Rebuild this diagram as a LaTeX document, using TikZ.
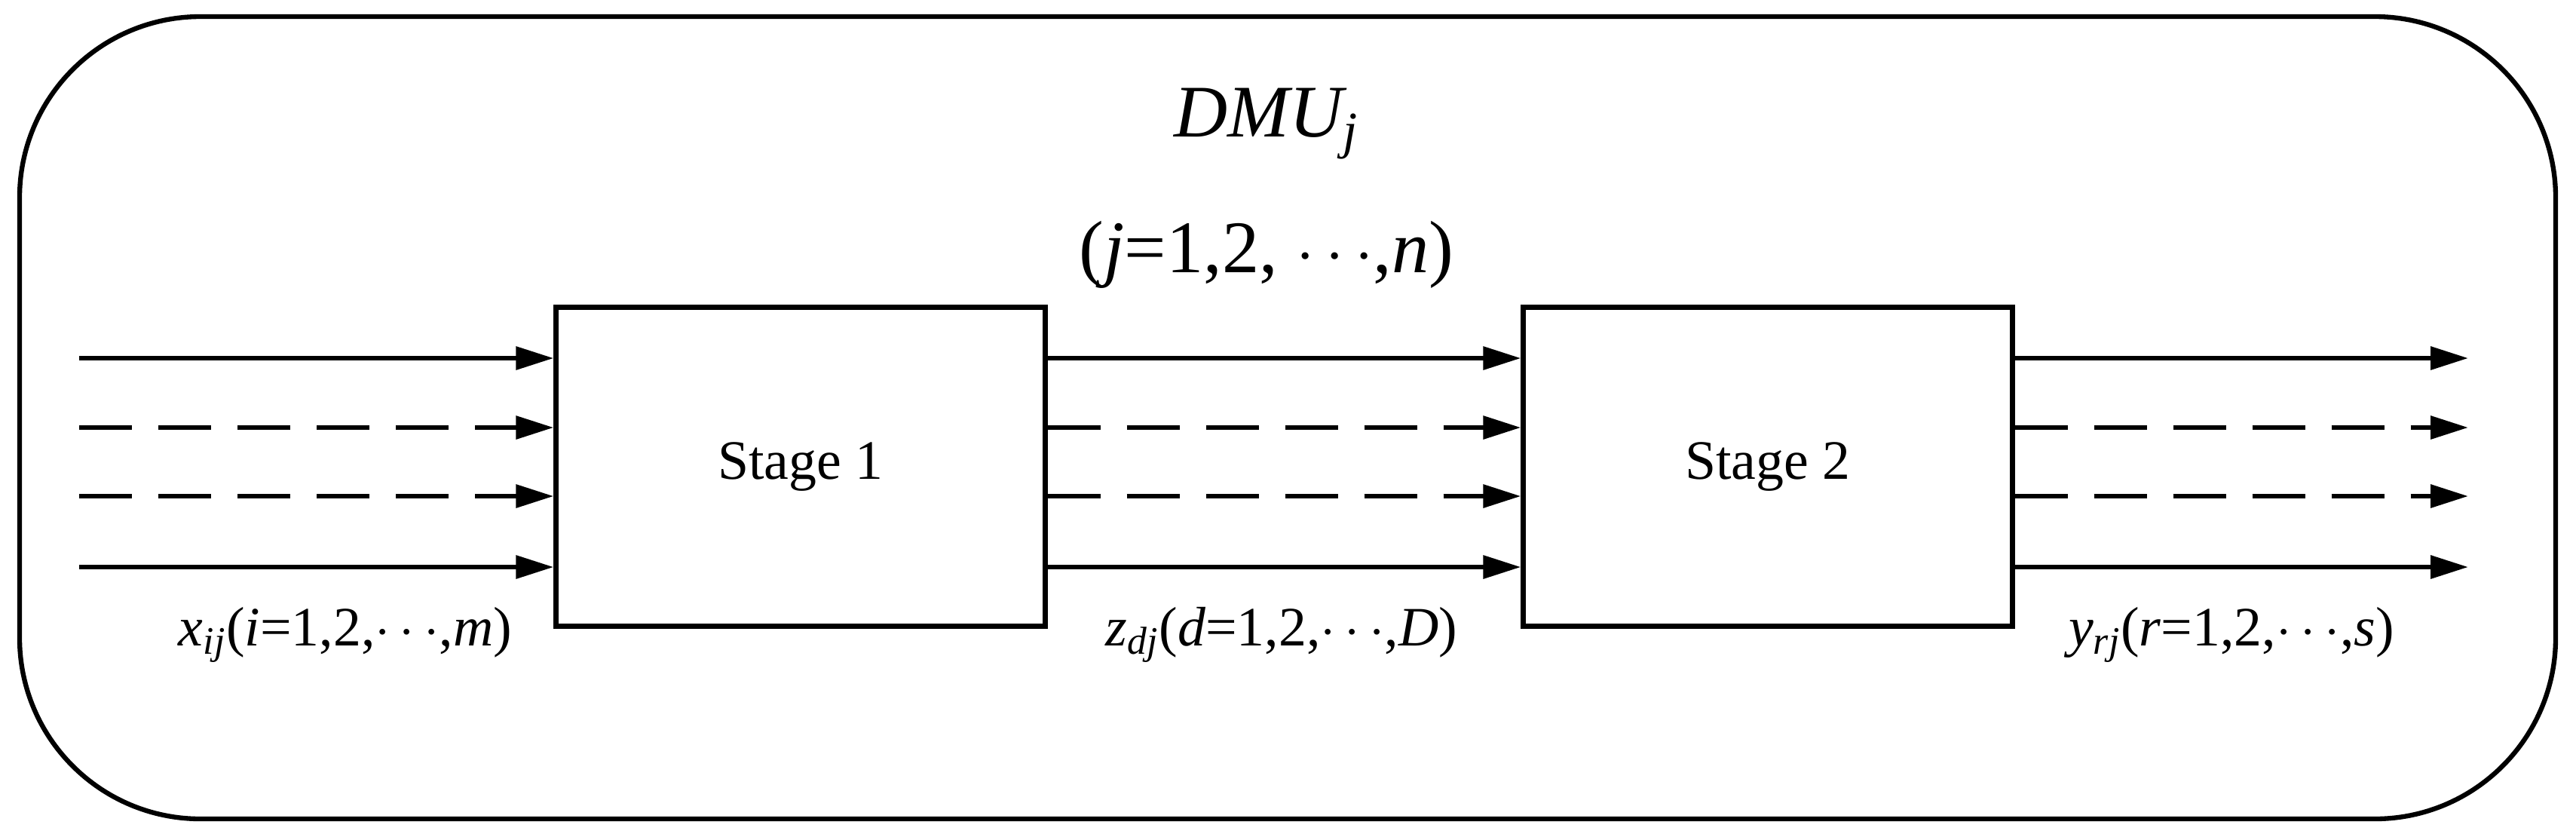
\documentclass[tikz,border=0pt]{standalone}
\usepackage{fontspec}
\setmainfont{Liberation Serif}
\usetikzlibrary{arrows.meta,positioning}
\tikzset{
  stage/.style={draw,line width=1.8pt,minimum width=6.49cm,minimum height=4.23cm,font=\fontsize{21}{24}\selectfont},
  flow/.style={line width=1.8pt,-{Triangle[length=0.5cm,width=0.3cm]}},
  solidflow/.style={solid},
  brokenflow/.style={dash pattern=on 0.7cm off 0.35cm},
  lbl/.style={font=\fontsize{21}{24}\selectfont,inner sep=0pt}
}
\begin{document}
\begin{tikzpicture}
            \useasboundingbox (0,0) rectangle (34.17,-11.13);
            \draw[line width=1.8pt,rounded corners=2.4cm] (0.26,-0.22) rectangle (33.9,-10.86);
            \node[lbl,font=\fontsize{28}{32}\selectfont] (dmu) at (16.8,-1.64) {\textit{DMU\textsubscript{j}}};
            \node[lbl,font=\fontsize{28}{32}\selectfont] (idx) at (16.8,-3.38) {(\textit{j}=1,2, $\cdots$,\textit{n})};
            \node[stage] (s1) at (10.62,-6.19) {Stage 1};
            \node[stage] (s2) at (23.45,-6.19) {Stage 2};
            \foreach \i/\y/\d in {1/-4.75/solidflow,2/-5.67/brokenflow,3/-6.58/brokenflow,4/-7.52/solidflow}{
                \coordinate (in\i) at (1.05,\y);
                \coordinate (out\i) at (32.74,\y);
                \draw[flow,\d] (in\i) -- (s1.west |- in\i);
                \draw[flow,\d] (s1.east |- in\i) -- (s2.west |- in\i);
                \draw[flow,\d] (s2.east |- in\i) -- (out\i);
            }
            \node[lbl] (x) at (4.58,-8.42) {\textit{x\textsubscript{ij}}(\textit{i}=1,2,$\cdots$,\textit{m})};
            \node[lbl] (z) at (17.0,-8.42) {\textit{z\textsubscript{dj}}(\textit{d}=1,2,$\cdots$,\textit{D})};
            \node[lbl] (y) at (29.6,-8.42) {\textit{y\textsubscript{rj}}(\textit{r}=1,2,$\cdots$,\textit{s})};
\end{tikzpicture}
\end{document}
